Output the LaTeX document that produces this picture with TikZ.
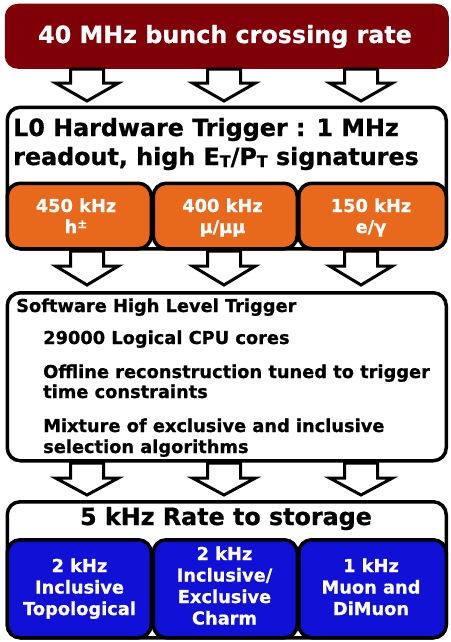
\documentclass[tikz,border=0pt]{standalone}
\usepackage{fontspec}
\setmainfont{DejaVu Sans}[BoldFeatures={FakeBold=0.8}]
\definecolor{topred}{HTML}{7F0006}
\definecolor{lzorange}{HTML}{E8691B}
\definecolor{hltblue}{HTML}{1010D6}
\newcommand\subT{\raisebox{-2pt}{\fontsize{16}{16}\selectfont T}}
\newcommand\blockdown[4]{%
  \draw[blockarr] (#1-16.5,#2) -- (#1-16.5,#3) -- (#1-31.5,#3) -- (#1,#4)
    -- (#1+31.5,#3) -- (#1+16.5,#3) -- (#1+16.5,#2) -- cycle;}
\begin{document}
\begin{tikzpicture}[x=1pt,y=-1pt,
  framebox/.style={draw=black,line width=3.5pt,rounded corners=13pt,inner sep=0pt,anchor=north west},
  bigtxt/.style={font=\fontsize{23.8}{28}\selectfont\bfseries,inner sep=0pt},
  smalltxt/.style={font=\fontsize{17.8}{21}\selectfont\bfseries,inner sep=0pt},
  blockarr/.style={draw=black,fill=white,line width=3pt,line join=miter}]
\useasboundingbox[fill=white] (0,0) rectangle (450,642);

% top box
\node[framebox,draw=none,fill=topred,minimum width=444pt,minimum height=65pt] (top) at (3,2) {};
\node[bigtxt,text=white,anchor=base] (ttop) at (225,43) {40 MHz bunch crossing rate};

% L0 box
\node[framebox,fill=white,minimum width=439pt,minimum height=141.5pt] (lzero) at (5.5,105.5) {};
\node[framebox,fill=lzorange,minimum width=144pt,minimum height=65.5pt] (oa) at (5.5,181.5) {};
\node[framebox,fill=lzorange,minimum width=144pt,minimum height=65.5pt] (ob) at (151.5,181.5) {};
\node[framebox,fill=lzorange,minimum width=147.5pt,minimum height=65.5pt] (oc) at (297,181.5) {};
\node[bigtxt,anchor=base west] (lza) at (13,136) {L0 Hardware Trigger : 1 MHz};
\node[bigtxt,anchor=base west] (lzb) at (13,165) {readout, high E\subT/P\subT{} signatures};
\node[smalltxt,text=white,anchor=base] (oa1) at (76,212) {450 kHz};
\node[smalltxt,text=white,anchor=base] (oa2) at (76,233) {h\raisebox{5pt}{\fontsize{12}{12}\selectfont ±}};
\node[smalltxt,text=white,anchor=base] (ob1) at (222.5,212) {400 kHz};
\node[smalltxt,text=white,anchor=base] (ob2) at (222.5,233) {μ/μμ};
\node[smalltxt,text=white,anchor=base] (oc1) at (371,212) {150 kHz};
\node[smalltxt,text=white,anchor=base] (oc2) at (371,233) {e/γ};

% HLT box
\node[framebox,fill=white,minimum width=439pt,minimum height=168pt] (hlt) at (5.5,291) {};
\node[smalltxt,anchor=base west] (h1) at (16,312) {Software High Level Trigger};
\node[smalltxt,anchor=base west] (h2) at (43,344) {29000 Logical CPU cores};
\node[smalltxt,anchor=base west] (h3) at (43,378) {Offline reconstruction tuned to trigger};
\node[smalltxt,anchor=base west] (h4) at (43,398) {time constraints};
\node[smalltxt,anchor=base west] (h5) at (43,432) {Mixture of exclusive and inclusive};
\node[smalltxt,anchor=base west] (h6) at (43,453) {selection algorithms};

% storage box
\node[framebox,fill=white,minimum width=439pt,minimum height=136pt] (stor) at (5.5,500) {};
\node[framebox,fill=hltblue,minimum width=144pt,minimum height=98pt] (ba) at (5.5,538) {};
\node[framebox,fill=hltblue,minimum width=144pt,minimum height=98pt] (bb) at (151.5,538) {};
\node[framebox,fill=hltblue,minimum width=147.5pt,minimum height=98pt] (bc) at (297,538) {};
\node[bigtxt,anchor=base] (st) at (226,525) {5 kHz Rate to storage};
\node[smalltxt,text=white,anchor=base] (ba1) at (79.5,572) {2 kHz};
\node[smalltxt,text=white,anchor=base] (ba2) at (79.5,593.5) {Inclusive};
\node[smalltxt,text=white,anchor=base] (ba3) at (79.5,615) {Topological};
\node[smalltxt,text=white,anchor=base] (bb1) at (224.5,560) {2 kHz};
\node[smalltxt,text=white,anchor=base] (bb2) at (224.5,581.5) {Inclusive/};
\node[smalltxt,text=white,anchor=base] (bb3) at (224.5,603) {Exclusive};
\node[smalltxt,text=white,anchor=base] (bb4) at (224.5,624.5) {Charm};
\node[smalltxt,text=white,anchor=base] (bc1) at (371,572) {1 kHz};
\node[smalltxt,text=white,anchor=base] (bc2) at (371,593.5) {Muon and};
\node[smalltxt,text=white,anchor=base] (bc3) at (371,615) {DiMuon};

% block arrows
\blockdown{87}{69}{83}{101}
\blockdown{224}{69}{83}{101}
\blockdown{361}{69}{83}{101}
\blockdown{87}{251}{266}{285}
\blockdown{224}{251}{266}{285}
\blockdown{361}{251}{266}{285}
\blockdown{87}{463}{478}{495}
\blockdown{224}{463}{478}{495}
\blockdown{361}{463}{478}{495}
\end{tikzpicture}
\end{document}
